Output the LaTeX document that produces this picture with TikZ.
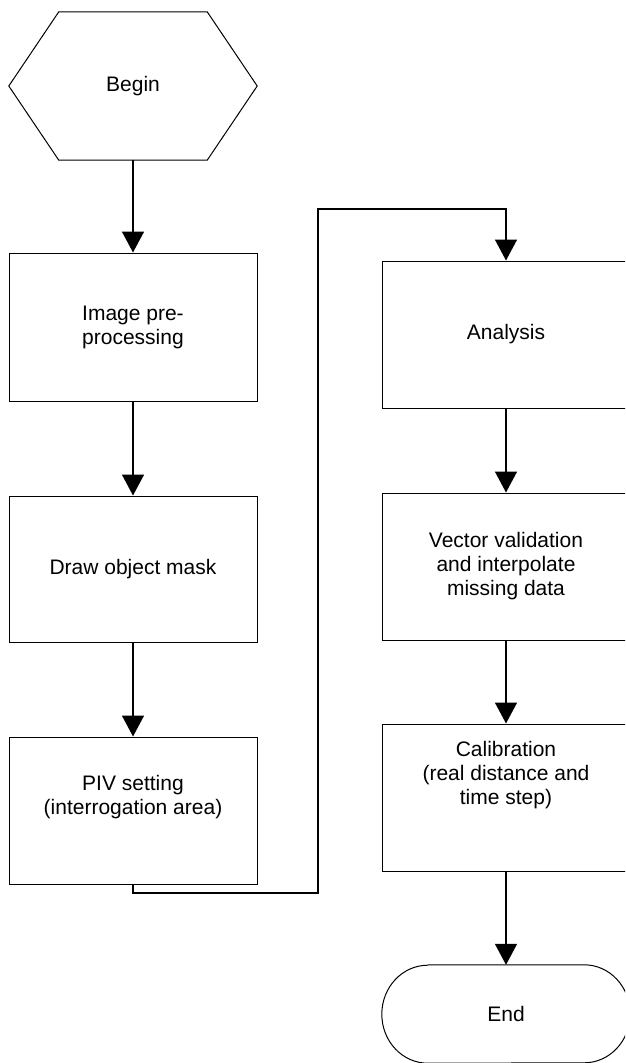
\documentclass[tikz,border=0pt]{standalone}
\usepackage{fontspec}
\setmainfont{Liberation Sans}
\usetikzlibrary{arrows.meta}
\tikzset{
  lbl/.style={align=center, inner sep=0pt, font=\fontsize{21}{24}\selectfont},
  box/.style={lbl, draw, line width=1pt, minimum width=248pt, minimum height=147pt},
  conn/.style={line width=1.6pt, -{Triangle[length=21pt,width=22pt]}},
  shapeline/.style={line width=1pt}
}
\begin{document}
\begin{tikzpicture}[x=1pt,y=-1pt]
\useasboundingbox (0,0) rectangle (625,1063);
\clip (0,0) rectangle (625,1063);
% Begin hexagon
\node[lbl, minimum width=248pt, minimum height=148pt] (begin) at (133,86) {Begin};
\draw[shapeline] ([xshift=50pt]begin.north west) -- ([xshift=-50pt]begin.north east)
  -- (begin.east) -- ([xshift=-50pt]begin.south east) -- ([xshift=50pt]begin.south west)
  -- (begin.west) -- cycle;
% left column
\node[box, minimum height=148pt] (b1) at (133,327) {Image pre-\\processing};
\node[box, minimum height=146pt] (b2) at (133,569) {Draw object mask};
\node[box] (b3) at (133,810.5) {};
\node[lbl] (t3) at ([yshift=13.5pt]b3.center) {PIV setting\\(interrogation area)};
% right column
\node[box] (r1) at (506,334.5) {Analysis};
\node[box] (r2) at (506,566.5) {Vector validation\\and interpolate\\missing data};
\node[box] (r3) at (506,797.5) {};
\node[lbl] (t6) at ([yshift=22.5pt]r3.center) {Calibration\\(real distance and\\time step)};
% End terminal
\node[lbl, minimum width=248pt, minimum height=98pt] (end) at (506,1014) {End};
\draw[shapeline] ([xshift=46pt]end.north west) -- ([xshift=-46pt]end.north east)
  arc[start angle=90, end angle=-90, x radius=46pt, y radius=49pt]
  -- ([xshift=46pt]end.south west)
  arc[start angle=270, end angle=90, x radius=46pt, y radius=49pt];
% connectors
\coordinate (c1) at (133,893);
\coordinate (c2) at (318,209);
\draw[conn] (begin.south) -- (b1.north);
\draw[conn] (b1.south) -- (b2.north);
\draw[conn] (b2.south) -- (b3.north);
\draw[conn] (b3.south) -- (c1) -| (c2) -| (r1.north);
\draw[conn] (r1.south) -- (r2.north);
\draw[conn] (r2.south) -- (r3.north);
\draw[conn] (r3.south) -- (end.north);
\end{tikzpicture}
\end{document}
